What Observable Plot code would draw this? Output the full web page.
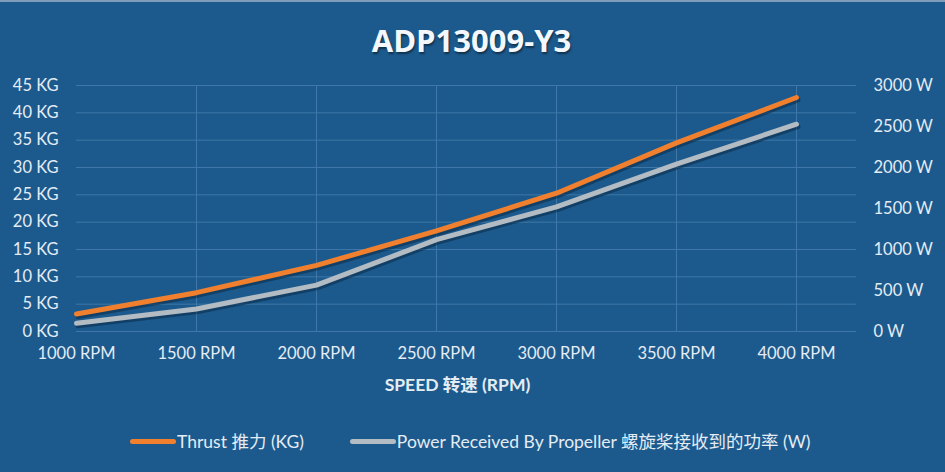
<!DOCTYPE html>
<html>
<head>
<meta charset="utf-8">
<script src="https://cdn.jsdelivr.net/npm/d3@7"></script>
<script src="https://cdn.jsdelivr.net/npm/@observablehq/plot@0.6"></script>
<style>
  html, body { margin: 0; padding: 0; }
  #wrap { position: relative; width: 945px; height: 472px; background: #1c5a8d; overflow: hidden; font-family: Lato, "Noto Sans CJK SC", sans-serif; color: #e4ecf4; border-top: 2px solid #7f9cb8; box-sizing: border-box; }
  #title { position: absolute; top: 19px; left: 0; width: 943px; text-align: center; font-family: "Open Sans", sans-serif; font-weight: 700; font-size: 31px; color: #f4f8fc; text-shadow: 1px 2px 2px rgba(0,0,0,0.45); line-height: 38px; }
  #chart { position: absolute; top: -2px; left: 0; }
  #xtitle { position: absolute; top: 372px; left: 0; width: 915px; text-align: center; font-weight: 700; font-size: 17.5px; line-height: 22px; }
  #legend { position: absolute; top: 425px; left: 130px; font-size: 17.5px; line-height: 22px; white-space: nowrap; }
  .item { display: inline-flex; align-items: center; margin-right: 46px; }
  .sw { display: inline-block; width: 46px; height: 5px; border-radius: 3px; margin-right: 1px; }
</style>
</head>
<body>
<div id="wrap">
  <div id="title">ADP13009-Y3</div>
  <div id="chart"></div>
  <div id="xtitle">SPEED 转速 (RPM)</div>
  <div id="legend"></div>
</div>
<script>
const rpm = [1000, 1500, 2000, 2500, 3000, 3500, 4000];
const thrustKg = [3.2, 7.1, 12.1, 18.4, 25.3, 34.5, 42.8];
const powerW = [100, 275, 565, 1120, 1520, 2040, 2528];
const leftTicks = [0, 5, 10, 15, 20, 25, 30, 35, 40, 45];
const rightTicksW = [0, 500, 1000, 1500, 2000, 2500, 3000];
const xTicks = [1000, 1500, 2000, 2500, 3000, 3500, 4000];
const seriesNames = ["Thrust 推力 (KG)", "Power Received By Propeller 螺旋桨接收到的功率 (W)"];
const seriesColors = ["#f0802e", "#b3bbc3"];

const kgMax = 45, wMax = 3000;
const w2kg = w => w * kgMax / wMax;

const thrust = rpm.map((r, i) => ({rpm: r, v: thrustKg[i]}));
const power = rpm.map((r, i) => ({rpm: r, v: w2kg(powerW[i])}));

const textColor = "#e4ecf4";
const gridColor = "#3f78a8";

const plot = Plot.plot({
  width: 945,
  height: 374,
  marginTop: 85,
  marginBottom: 43,
  marginLeft: 76,
  marginRight: 89,
  style: {background: "transparent", color: textColor, fontFamily: "Lato, sans-serif", fontSize: "16px", overflow: "visible"},
  x: {domain: [1000, 4250]},
  y: {domain: [0, 45]},
  marks: [
    Plot.ruleY(leftTicks, {stroke: gridColor, strokeWidth: 1}),
    Plot.ruleX(xTicks.filter(d => d > 1000), {stroke: gridColor, strokeWidth: 1}),
    Plot.axisY(leftTicks, {anchor: "left", tickSize: 0, tickPadding: 0, dx: -18, tickFormat: d => `${d} KG`, label: null, fontSize: 16.5, fill: textColor}),
    Plot.axisY(rightTicksW.map(w2kg), {anchor: "right", tickSize: 0, tickPadding: 0, dx: 17, tickFormat: d => `${Math.round(d * wMax / kgMax)} W`, label: null, fontSize: 16.5, fill: textColor}),
    Plot.axisX(xTicks, {anchor: "bottom", tickSize: 0, tickPadding: 16, tickFormat: d => `${d} RPM`, label: null, fontSize: 16.5, fill: textColor}),
    Plot.line(power, {x: "rpm", y: "v", stroke: "#0b2a45", strokeWidth: 5, strokeOpacity: 0.55, dx: 1.5, dy: 2.5, strokeLinecap: "round", strokeLinejoin: "round"}),
    Plot.line(power, {x: "rpm", y: "v", stroke: seriesColors[1], strokeWidth: 5, strokeLinecap: "round", strokeLinejoin: "round"}),
    Plot.line(thrust, {x: "rpm", y: "v", stroke: "#0b2a45", strokeWidth: 5, strokeOpacity: 0.55, dx: 1.5, dy: 2.5, strokeLinecap: "round", strokeLinejoin: "round"}),
    Plot.line(thrust, {x: "rpm", y: "v", stroke: seriesColors[0], strokeWidth: 5, strokeLinecap: "round", strokeLinejoin: "round"})
  ]
});
document.getElementById("chart").appendChild(plot);

const legend = document.getElementById("legend");
seriesNames.forEach((name, i) => {
  const item = document.createElement("span");
  item.className = "item";
  const sw = document.createElement("span");
  sw.className = "sw";
  sw.style.background = seriesColors[i];
  item.appendChild(sw);
  item.appendChild(document.createTextNode(name));
  legend.appendChild(item);
});
</script>
</body>
</html>
